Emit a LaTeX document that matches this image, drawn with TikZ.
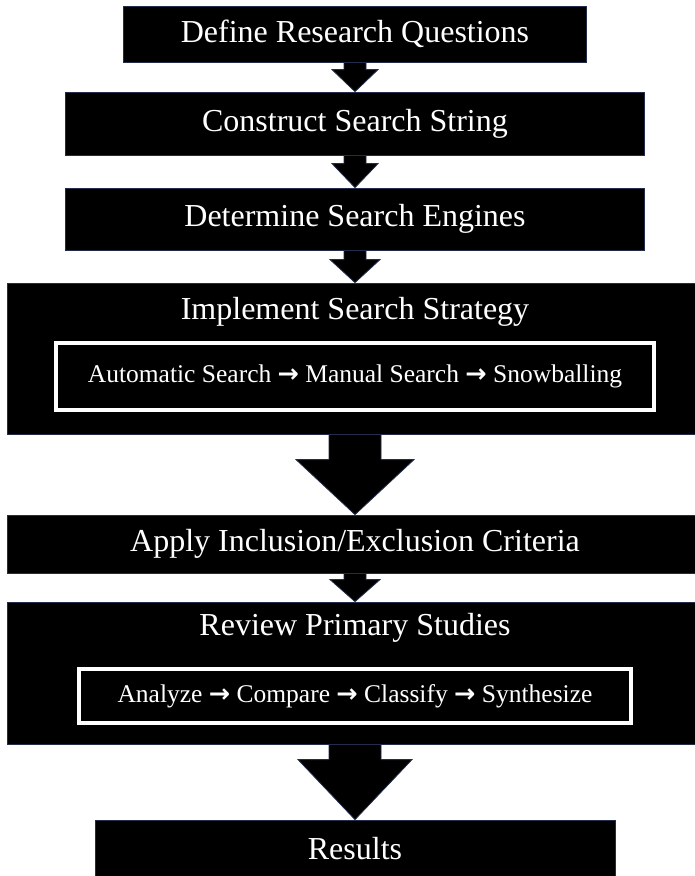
\documentclass[tikz,border=0pt]{standalone}
\usepackage{fontspec}
\setmainfont{Liberation Serif}
\newfontfamily\arrowfont{DejaVu Sans}
\usetikzlibrary{calc}
\definecolor{edgeblue}{RGB}{35,45,75}
\tikzset{
  box/.style={fill=black, draw=edgeblue, line width=0.8pt, text=white, inner sep=0pt, anchor=center,
    font=\fontsize{32}{38}\selectfont},
  titletext/.style={text=white, font=\fontsize{32}{38}\selectfont, inner sep=0pt},
  innerbox/.style={draw=white, line width=4pt, fill=black, text=white, inner sep=0pt,
    font=\fontsize{25.5}{30}\selectfont},
  arr/.style={fill=black, draw=edgeblue, line width=0.8pt},
}
\newcommand{\rarr}{{\arrowfont\bfseries →}}
% from, to, stem half width, head half width, head length
\newcommand{\flowarrow}[5]{%
  \filldraw[arr] ($(#1.south)+(-#3pt,0)$) -- ($(#2.north)+(-#3pt,#5pt)$) -- ($(#2.north)+(-#4pt,#5pt)$)
    -- (#2.north) -- ($(#2.north)+(#4pt,#5pt)$) -- ($(#2.north)+(#3pt,#5pt)$) -- ($(#1.south)+(#3pt,0)$) -- cycle;}
\begin{document}
\begin{tikzpicture}[x=1pt,y=-1pt]
\useasboundingbox (0,0) rectangle (695,876);
\fill[white] (0,0) rectangle (695,876);
\clip (0,0) rectangle (695,876);
\node[box, minimum width=463pt, minimum height=56pt] (b1) at (355,34) {Define Research Questions};
\node[box, minimum width=579pt, minimum height=63pt] (b2) at (355,123.5) {Construct Search String};
\node[box, minimum width=579pt, minimum height=62pt] (b3) at (355,219) {Determine Search Engines};
\node[box, minimum width=696pt, minimum height=151pt] (b4) at (355,358.5) {};
\node[titletext] (t4) at (355,312) {Implement Search Strategy};
\node[innerbox, minimum width=598pt, minimum height=67pt] (i4) at (355,376.5) {Automatic Search \rarr{} Manual Search \rarr{} Snowballing};
\node[box, minimum width=696pt, minimum height=58pt] (b5) at (355,544) {Apply Inclusion/Exclusion Criteria};
\node[box, minimum width=696pt, minimum height=142pt] (b6) at (355,673) {};
\node[titletext] (t6) at (355,628) {Review Primary Studies};
\node[innerbox, minimum width=552pt, minimum height=54pt] (i6) at (355,696) {Analyze \rarr{} Compare \rarr{} Classify \rarr{} Synthesize};
\node[box, minimum width=520pt, minimum height=58pt] (b7) at (355,849) {Results};
\flowarrow{b1}{b2}{11}{23}{22}
\flowarrow{b2}{b3}{11}{23}{24}
\flowarrow{b3}{b4}{11}{25}{23}
\flowarrow{b4}{b5}{26}{59}{55}
\flowarrow{b5}{b6}{11}{25}{22}
\flowarrow{b6}{b7}{26}{57}{60}
\end{tikzpicture}
\end{document}
